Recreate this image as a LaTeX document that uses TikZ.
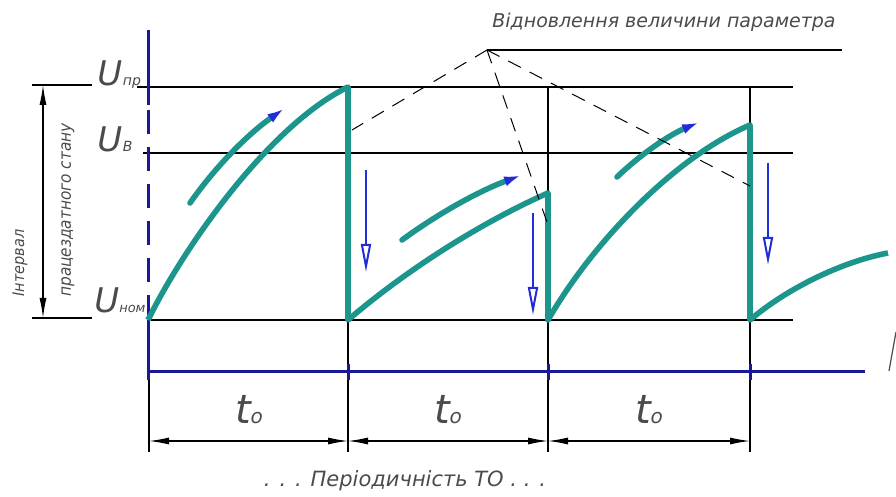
\documentclass[tikz,border=0pt]{standalone}
\usepackage{fontspec}
\newfontfamily\gost{DejaVu Sans}
\newfontfamily\gostc{DejaVu Sans Condensed}
\usetikzlibrary{arrows.meta}
\definecolor{wearcol}{RGB}{28,150,140}
\definecolor{axblue}{RGB}{25,25,150}
\definecolor{tipblue}{RGB}{35,45,215}
\definecolor{txtgray}{RGB}{75,75,75}
\newcommand{\ulab}[1]{{\fontsize{17}{17}\selectfont U}\kern0.3pt{\fontsize{7}{7}\selectfont #1}}
\newcommand{\tlab}{{\fontsize{20}{20}\selectfont t}{\fontsize{10}{10}\selectfont o}}

\begin{document}
\begin{tikzpicture}[x=0.5pt, y=-0.5pt,
  every node/.style={font=\gost\itshape, text=txtgray, inner sep=0pt},
  lbl/.style={font=\gost\itshape\fontsize{9.5}{11}\selectfont},
  vlbl/.style={font=\gostc\itshape\fontsize{8}{9}\selectfont, rotate=90},
  gridline/.style={black, line width=0.6pt},
  axis/.style={axblue, line width=1.5pt},
  wear/.style={wearcol, line width=2.8pt, line join=round},
  trend/.style={wearcol, line width=2.8pt, line cap=round, -{Latex[length=9pt, width=5pt, color=tipblue]}},
  drop/.style={tipblue, line width=1.1pt, -{Triangle[open, length=14pt, width=5pt, line width=1pt]}},
  dim/.style={black, line width=0.6pt, {Latex[length=10pt, width=3.5pt]}-{Latex[length=10pt, width=3.5pt]}},
  lead/.style={black, line width=0.5pt, dash pattern=on 7pt off 5pt}]
  \useasboundingbox (0,0) rectangle (896,497);

  \coordinate (a0) at (148,320);
  \coordinate (a1) at (348,87);
  \coordinate (b0) at (348,320);
  \coordinate (b1) at (548,193);
  \coordinate (c0) at (548,320);
  \coordinate (c1) at (750,125);
  \coordinate (d0) at (750,320);
  \coordinate (d1) at (888,253);
  \coordinate (apex) at (487,50);
  \coordinate (r1) at (352,130);
  \coordinate (r2) at (548,225);
  \coordinate (r3) at (750,186);

  % levels and period lines
  \draw[gridline] (137,87) -- (793,87);
  \draw[gridline] (143,153) -- (793,153);
  \draw[gridline] (148,320) -- (793,320);
  \draw[gridline] (32,85) -- (92,85);
  \draw[gridline] (32,318) -- (92,318);
  \draw[gridline] (149,372) -- (149,452);
  \draw[gridline] (348,87) -- (348,452);
  \draw[gridline] (548,87) -- (548,452);
  \draw[gridline] (750,87) -- (750,452);

  % axes
  \draw[axis] (148,30) -- (148,105);
  \draw[axis, dash pattern=on 12pt off 6.5pt] (148,110) -- (148,320);
  \draw[axis] (148,320) -- (148,380);
  \draw[axis] (148,372) -- (865,372);
  \draw[axis] (348,364) -- (348,380);
  \draw[axis] (548,364) -- (548,380);
  \draw[axis] (750,364) -- (750,380);
  \draw[txtgray, line width=0.6pt] (889,371) -- (896,332);

  % parameter curve
  \draw[wear] (a0) .. controls (185,245) and (270,125) .. (a1) -- (b0)
    .. controls (404,272) and (478,224) .. (b1) -- (c0)
    .. controls (593,242) and (675,157) .. (c1) -- (d0)
    .. controls (785,290) and (840,262) .. (d1);

  \draw[trend] (190,203) .. controls (216,166) and (248,134) .. (285,108);
  \draw[trend] (402,240) .. controls (439,213) and (479,191) .. (522,175);
  \draw[trend] (617,177) .. controls (641,154) and (669,135) .. (700,122);
  \draw[drop] (366,170) -- (366,272);
  \draw[drop] (533,213) -- (533,315);
  \draw[drop] (768,163) -- (768,265);

  % restoration leader
  \node[lbl] (title) at (664,22) {Відновлення величини параметра};
  \draw[gridline] (apex) -- (842,50);
  \draw[lead] (apex) -- (r1);
  \draw[lead] (apex) -- (r2);
  \draw[lead] (apex) -- (r3);

  % level labels
  \node[anchor=base west] (unp) at (97,86) {\ulab{пр}};
  \node[anchor=base west] (uv) at (97,152) {\ulab{В}};
  \node[anchor=base west] (unom) at (94,313) {{\fontsize{17}{17}\selectfont U}{\fontsize{6.5}{7}\selectfont ном}};
  \draw[dim] (43,85) -- (43,318);
  \node[vlbl] (intv) at (20,263) {Інтервал};
  \node[vlbl, font=\gostc\itshape\fontsize{8.5}{9}\selectfont] (wstate) at (68,210) {працездатного стану};

  % periodicity
  \draw[dim] (149,441) -- (348,441);
  \draw[dim] (348,441) -- (548,441);
  \draw[dim] (548,441) -- (750,441);
  \node (to1) at (249,410) {\tlab};
  \node (to2) at (448,410) {\tlab};
  \node (to3) at (649,410) {\tlab};
  \node[lbl, font=\gost\itshape\fontsize{10.5}{12}\selectfont] (period) at (405,481) {. . . Періодичність ТО . . .};
\end{tikzpicture}
\end{document}
